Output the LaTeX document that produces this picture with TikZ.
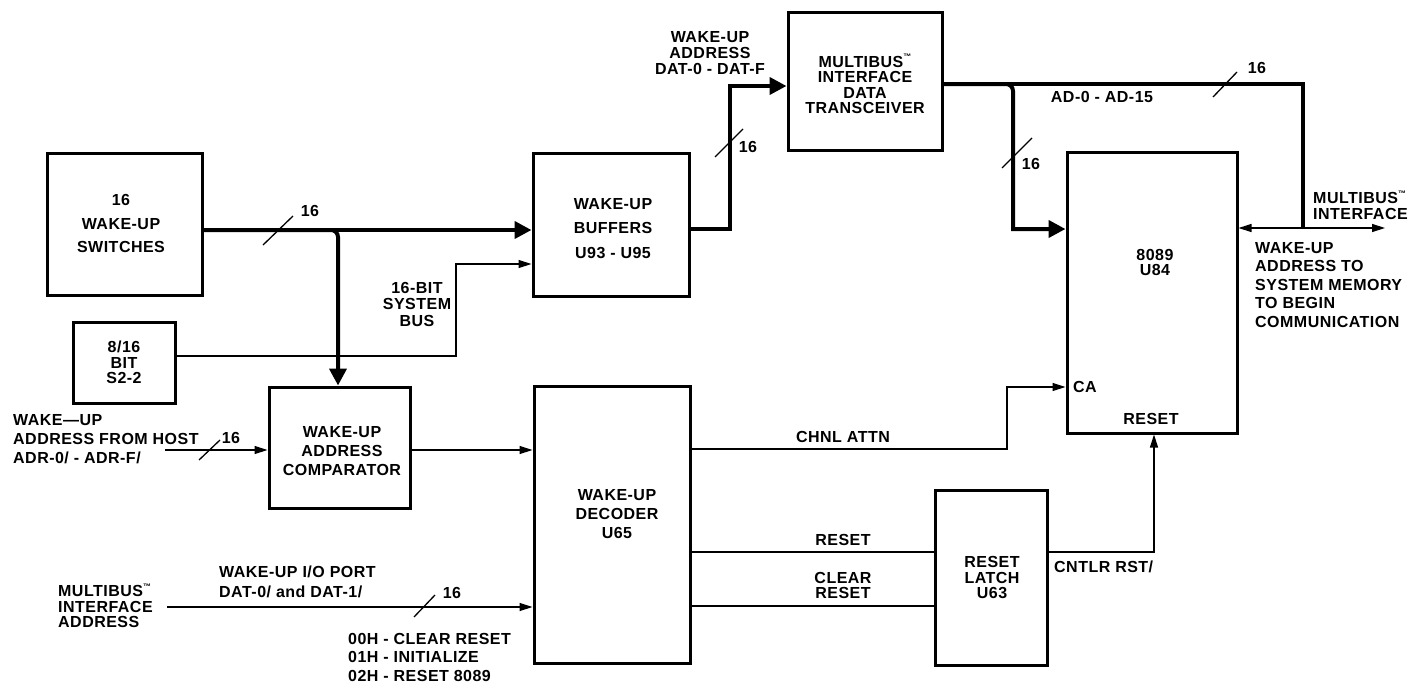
\documentclass[tikz,border=0pt]{standalone}
\usepackage{fontspec}
\setmainfont{Liberation Sans}[LetterSpace=3]
\usetikzlibrary{arrows.meta}
\newcommand\tmk{\raisebox{0.45em}{\fontsize{8}{8}\selectfont ™}}
\begin{document}
\begin{tikzpicture}[x=1pt,y=-1pt,
  blk/.style={draw,line width=3pt,inner sep=0pt},
  lbl/.style={inner sep=0pt,align=center,font={\fontsize{16}{#1}\selectfont\bfseries}},
  lbl/.default=16,
  lbll/.style={inner sep=0pt,align=left,anchor=west,font={\fontsize{16}{#1}\selectfont\bfseries}},
  lbll/.default=16,
  bus/.style={line width=4pt},
  sig/.style={line width=1.3pt},
  bigarrow/.style={-{Triangle[length=17pt,width=17pt]}},
  sarrow/.style={-{Triangle[length=13pt,width=8pt]}},
  sarrows/.style={{Triangle[length=13pt,width=8pt]}-{Triangle[length=13pt,width=8pt]}},
  slash/.style={line width=1.3pt}
]
\useasboundingbox (0,0) rectangle (1409,683);

% boxes
\node[blk,minimum width=155pt,minimum height=142pt] (sw) at (124.5,224) {};
\node[blk,minimum width=102pt,minimum height=81pt] (bit) at (124,362.5) {};
\node[blk,minimum width=156pt,minimum height=143pt] (buf) at (611,224.5) {};
\node[blk,minimum width=141pt,minimum height=121pt] (cmp) at (339.5,447.5) {};
\node[blk,minimum width=156pt,minimum height=277pt] (dec) at (612,524.5) {};
\node[blk,minimum width=154pt,minimum height=138pt] (trx) at (865,81) {};
\node[blk,minimum width=170pt,minimum height=281pt] (cpu) at (1152,292.5) {};
\node[blk,minimum width=112pt,minimum height=175pt] (lat) at (991,577.5) {};

% box texts
\node[lbl=23.5] (swt) at (121,223.5) {16\\WAKE-UP\\SWITCHES};
\node[lbl=15.5] (bitt) at (124,362.5) {8/16\\BIT\\S2-2};
\node[lbl=24.5] (buft) at (613,228.5) {WAKE-UP\\BUFFERS\\U93 - U95};
\node[lbl=19] (cmpt) at (342,451) {WAKE-UP\\ADDRESS\\COMPARATOR};
\node[lbl=19] (dect) at (617,514) {WAKE-UP\\DECODER\\U65};
\node[lbl=15.5] (trxt) at (865,84) {MULTIBUS\tmk\\INTERFACE\\DATA\\TRANSCEIVER};
\node[lbl=15] (cput) at (1155,262.5) {8089\\U84};
\node[lbll] (ca) at (1073,387) {CA};
\node[lbl] (cpur) at (1151,419) {RESET};
\node[lbl=15.5] (latt) at (992,577.5) {RESET\\LATCH\\U63};

% coordinates
\coordinate (j1) at (338,230);
\coordinate (k1) at (456,356);
\coordinate (k2) at (456,264);
\coordinate (hin) at (165,450);
\coordinate (min) at (167,607);
\coordinate (b1) at (730,229);
\coordinate (b2) at (730,86);
\coordinate (t1) at (1303,84);
\coordinate (t2) at (1303,228);
\coordinate (t3) at (1013,84);
\coordinate (t4) at (1013,229);
\coordinate (mbo) at (1385,228);
\coordinate (c1) at (1007,449);
\coordinate (c2) at (1007,387);
\coordinate (r1) at (800,552);
\coordinate (r2) at (800,606);
\coordinate (n1) at (1154,552);

% connectors
\draw[bus,bigarrow] (sw.east|-j1) -- (buf.west|-j1);
\draw[bus,bigarrow,rounded corners=7pt] (sw.east|-j1) -- (j1) -- (cmp.north-|j1);
\draw[sig,sarrow] (bit.east|-k1) -- (k1) -- (k2) -- (buf.west|-k2);
\draw[sig,sarrow] (hin) -- (cmp.west|-hin);
\draw[sig,sarrow] (cmp.east|-hin) -- (dec.west|-hin);
\draw[sig,sarrow] (min) -- (dec.west|-min);
\draw[bus,bigarrow] (buf.east|-b1) -- (b1) -- (b2) -- (trx.west|-b2);
\draw[bus] (trx.east|-t1) -- (t1) -- (t2);
\draw[bus,bigarrow] (trx.east|-t3) [rounded corners=7pt] -- (t3) [sharp corners] -- (t4) -- (cpu.west|-t4);
\draw[sig,sarrows] (cpu.east|-t2) -- (mbo);
\draw[sig,sarrow] (dec.east|-c1) -- (c1) -- (c2) -- (cpu.west|-c2);
\draw[sig] (dec.east|-r1) -- (lat.west|-r1);
\draw[sig] (dec.east|-r2) -- (lat.west|-r2);
\draw[sig,sarrow] (lat.east|-n1) -- (n1) -- (cpu.south-|n1);

% bus-width slashes
\draw[slash] (263,245) -- (293,216);
\draw[slash] (199,460) -- (220,440);
\draw[slash] (414,617) -- (435,595);
\draw[slash] (715,157) -- (743,129);
\draw[slash] (1002,168) -- (1032,138);
\draw[slash] (1213,97) -- (1237,72);

% labels
\node[lbl] (w1) at (310,211) {16};
\node[lbl=16.5] (sysbus) at (417,304) {16-BIT\\SYSTEM\\BUS};
\node[lbll=19] (host) at (13,439) {WAKE—UP\\ADDRESS FROM HOST\\ADR-0/ - ADR-F/};
\node[lbl] (w2) at (231,438) {16};
\node[lbll=15.5] (mbin) at (58,606) {MULTIBUS\tmk\\INTERFACE\\ADDRESS};
\node[lbll=20] (port) at (219,582) {WAKE-UP I/O PORT\\DAT-0/ and DAT-1/};
\node[lbl] (w3) at (452,593) {16};
\node[lbll=18.5] (codes) at (348,657) {00H - CLEAR RESET\\01H - INITIALIZE\\02H - RESET 8089};
\node[lbl=16] (dat) at (710,53) {WAKE-UP\\ADDRESS\\DAT-0 - DAT-F};
\node[lbl] (w4) at (748,147) {16};
\node[lbl] (ad) at (1102,97) {AD-0 - AD-15};
\node[lbl] (w5) at (1031,164) {16};
\node[lbl] (w6) at (1257,68) {16};
\node[lbll=15.5] (mbout) at (1313,205) {MULTIBUS\tmk\\INTERFACE};
\node[lbll=18.5] (wmem) at (1255,285) {WAKE-UP\\ADDRESS TO\\SYSTEM MEMORY\\TO BEGIN\\COMMUNICATION};
\node[lbl] (chnl) at (843,437) {CHNL ATTN};
\node[lbl] (rst) at (843,540) {RESET};
\node[lbl=15] (clr) at (843,585.5) {CLEAR\\RESET};
\node[lbll] (cntlr) at (1054,567) {CNTLR RST/};
\end{tikzpicture}
\end{document}
